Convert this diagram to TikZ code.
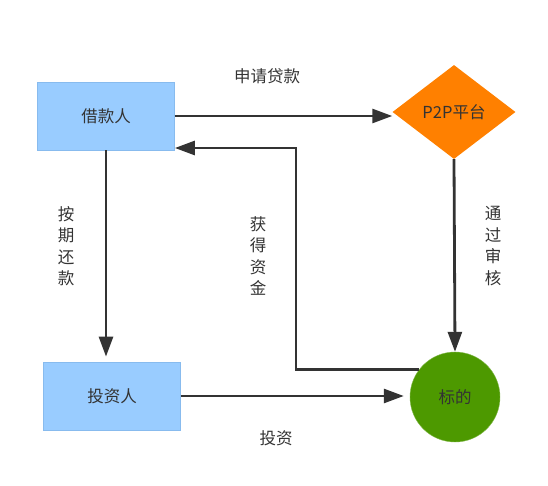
\documentclass[tikz,border=0pt]{standalone}
\usepackage{fontspec}
\setmainfont{Noto Sans CJK SC}
\usetikzlibrary{shapes.geometric,arrows.meta}
\definecolor{boxblue}{HTML}{99CCFF}
\definecolor{boxedge}{HTML}{88BBEE}
\definecolor{platorange}{HTML}{FF8000}
\definecolor{targetgreen}{HTML}{4D9900}
\definecolor{linegray}{HTML}{333333}
\tikzset{
  party/.style={rectangle,fill=boxblue,draw=boxedge,line width=0.8pt,minimum width=137pt,minimum height=68pt},
  flow/.style={draw=linegray,line width=2.8pt,-{Triangle[length=20pt,width=14pt]}}
}
\begin{document}
\begin{tikzpicture}[x=1pt,y=-1pt,font=\fontsize{16.5}{21.5}\selectfont,text=linegray]
                        \useasboundingbox (0,0) rectangle (548,486);
                        \node[party] (borrower) at(106,116) {借款人};
                        \node[party] (investor) at(112,396) {投资人};
                        \node[diamond,fill=platorange,minimum width=123pt,minimum height=94pt,inner sep=0pt] (platform) at(454,112) {P2P平台};
                        \node[circle,fill=targetgreen,draw=targetgreen!70!white,minimum size=90pt] (target) at(455,397) {标的};

                        \coordinate (turn) at(296,148);

                        \draw[flow] (borrower.east) -- (borrower.east -| platform.west);
                        \draw[flow] (target.143) -| (turn) -- (turn -| borrower.east);
                        \draw[flow,shorten >=5pt] (borrower.south) -- (borrower.south |- investor.north);
                        \draw[flow] (platform.south) -- (target.north);
                        \draw[flow,shorten >=6pt] (investor.east) -- (investor.east -| target.west);

                        \node (loanlbl) at(267,76) {申请贷款};
                        \node (investlbl) at(276,438) {投资};
                        \node[align=center] (repaylbl) at(66,246) {按\\期\\还\\款};
                        \node[align=center] (fundlbl) at(258,256) {获\\得\\资\\金};
                        \node[align=center] (auditlbl) at(493,246) {通\\过\\审\\核};
                    \end{tikzpicture}
\end{document}
